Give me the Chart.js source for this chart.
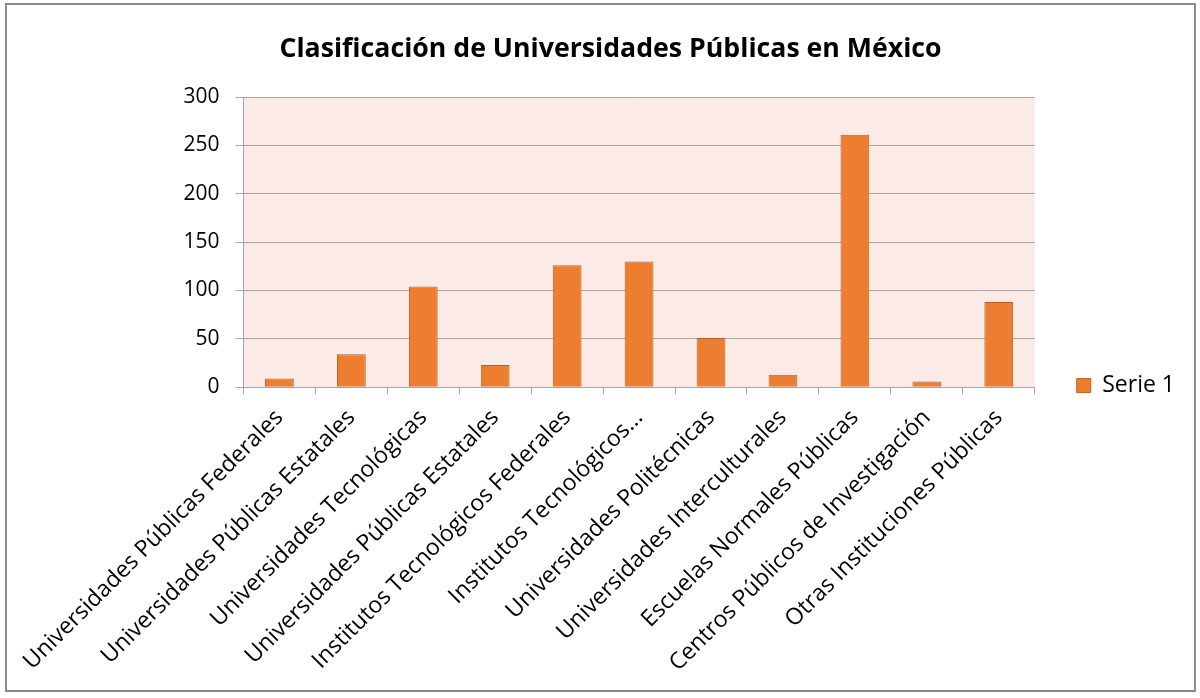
<!DOCTYPE html>
<html lang="es">
<head>
<meta charset="utf-8">
<title>Clasificación de Universidades Públicas en México</title>
<script src="https://cdn.jsdelivr.net/npm/chart.js@4.4.1/dist/chart.umd.min.js"></script>
<style>
  html, body { margin: 0; padding: 0; background: #ffffff; }
  #frame {
    position: absolute;
    left: 5px; top: 3px;
    width: 1191px; height: 689px;
    border: 2px solid #8c8c8c;
    box-sizing: border-box;
    background: #ffffff;
  }
  #chart-box { position: absolute; left: 0; top: 0; width: 100%; height: 100%; }
</style>
</head>
<body>
<div id="frame">
  <div id="chart-box"><canvas id="uniChart"></canvas></div>
</div>
<script>
// Categories and counts per type of public institution
const categories = [
    "Universidades Públicas Federales",
    "Universidades Públicas Estatales",
    "Universidades Tecnológicas",
    "Universidades Públicas Estatales",
    "Institutos Tecnológicos Federales",
    "Institutos Tecnológicos...",
    "Universidades Politécnicas",
    "Universidades Interculturales",
    "Escuelas Normales Públicas",
    "Centros Públicos de Investigación",
    "Otras Instituciones Públicas",
];
const serie1 = [9, 34, 104, 23, 126, 130, 51, 13, 261, 6, 88];
const yTicks = { min: 0, max: 300, step: 50 };

const FONT = "'Open Sans', Lato, sans-serif";
const ORANGE = "#ED7D31";
const ORANGE_EDGE = "#BE5F1F";
const GRID = "#a6a6a6";

// Light pink fill behind the plotting area
const plotBackground = {
    id: "plotBackground",
    beforeDraw(chart) {
        const { ctx, chartArea: a } = chart;
        ctx.save();
        ctx.fillStyle = "#FBEAE6";
        ctx.fillRect(a.left, a.top, a.right - a.left, a.bottom - a.top);
        ctx.restore();
    },
};

// The legend reserves a wide column; pull the entry back toward the plot
const legendShift = {
    id: "legendShift",
    afterLayout(chart) {
        if (chart.legend) {
            chart.legend.left -= 9;
            chart.legend.right -= 9;
        }
    },
};

const ctx = document.getElementById("uniChart").getContext("2d");
new Chart(ctx, {
    type: "bar",
    data: {
        labels: categories,
        datasets: [{
            label: "Serie 1",
            data: serie1,
            backgroundColor: ORANGE,
            borderColor: ORANGE_EDGE,
            borderWidth: 1,
            categoryPercentage: 1,
            barPercentage: 0.4,
        }],
    },
    options: {
        responsive: true,
        maintainAspectRatio: false,
        animation: false,
        layout: { padding: { left: 20, right: 0, top: 12, bottom: 3 } },
        scales: {
            x: {
                offset: true,
                border: { color: GRID, width: 1 },
                grid: {
                    offset: true,
                    drawOnChartArea: false,
                    drawTicks: true,
                    tickLength: 7,
                    color: GRID,
                },
                ticks: {
                    autoSkip: false,
                    maxRotation: 45,
                    minRotation: 45,
                    padding: 10,
                    color: "#000000",
                    font: { family: FONT, size: 23 },
                },
            },
            y: {
                min: yTicks.min,
                max: yTicks.max,
                border: { color: GRID, width: 1 },
                grid: { color: GRID, lineWidth: 1, tickLength: 8 },
                ticks: {
                    stepSize: yTicks.step,
                    padding: 16,
                    color: "#000000",
                    font: { family: FONT, size: 21 },
                },
                // wide enough that the first slanted label clears the frame
                afterFit(scale) {
                    scale.width = 215;
                },
            },
        },
        plugins: {
            title: {
                display: true,
                text: "Clasificación de Universidades Públicas en México",
                color: "#000000",
                font: { family: FONT, size: 26.7, weight: "bold" },
                padding: { top: 16, bottom: 32 },
            },
            legend: {
                position: "right",
                align: "center",
                // empty title block pushes the single entry down a little
                title: { display: true, text: "", font: { size: 1 }, padding: { top: 66, bottom: 0 } },
                labels: {
                    color: "#000000",
                    boxWidth: 14,
                    boxHeight: 14,
                    padding: 51,
                    font: { family: FONT, size: 23 },
                },
            },
            tooltip: { enabled: false },
        },
    },
    plugins: [plotBackground, legendShift],
});
</script>
</body>
</html>
